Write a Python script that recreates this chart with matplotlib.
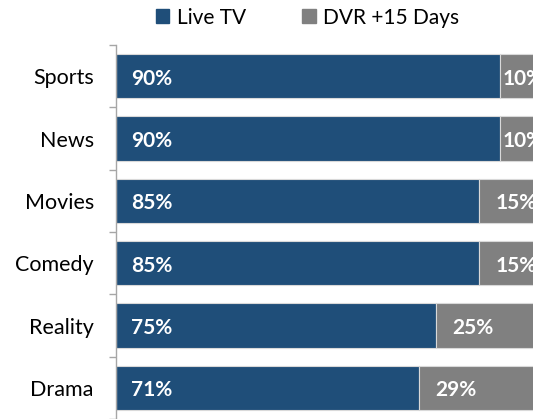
import matplotlib
matplotlib.use("Agg")
import matplotlib.pyplot as plt
from matplotlib.patches import Patch

# ── data ──────────────────────────────────────────────────────────────────────
CATEGORIES = ["Sports", "News", "Movies", "Comedy", "Reality", "Drama"]
LIVE_TV    = [90, 90, 85, 85, 75, 71]
DVR_15     = [10, 10, 15, 15, 25, 29]
SERIES     = ["Live TV", "DVR +15 Days"]

BLUE = "#1F4E79"
GRAY = "#808080"
FONT = ["Lato", "DejaVu Sans"]

plt.rcParams["font.family"] = FONT

W, H = 533, 419
fig = plt.figure(figsize=(W / 100, H / 100), dpi=100)
# axes runs past the right edge on purpose (reference is cropped there)
ax = fig.add_axes([116 / W, 0, 427 / W, 374 / H])

y = list(range(len(CATEGORIES)))
ax.barh(y, LIVE_TV, height=0.71, color=BLUE, edgecolor="#D9D9D9", lw=0.8)
ax.barh(y, DVR_15, left=LIVE_TV, height=0.71, color=GRAY,
        edgecolor="#D9D9D9", lw=0.8)

for yi, live, dvr in zip(y, LIVE_TV, DVR_15):
    ax.text(3.6, yi + 0.04, f"{live}%", color="white", fontsize=15,
            fontweight="bold", ha="left", va="center")
    pad = 0.5 if dvr < 12 else 3.8
    ax.text(live + pad, yi + 0.04, f"{dvr}%", color="white", fontsize=15,
            fontweight="bold", ha="left", va="center")

ax.set_xlim(0, 100)
ax.set_ylim(len(CATEGORIES) - 0.5, -0.5)

# boundary ticks on the spine, labels at the bar centres
ax.set_yticks([i - 0.5 for i in range(len(CATEGORIES) + 1)])
ax.set_yticklabels([])
ax.set_yticks(y, minor=True)
ax.set_yticklabels(CATEGORIES, minor=True, fontsize=15.5, color="#000000")
ax.tick_params(axis="y", which="major", length=5, width=1, color="#A6A6A6")
ax.tick_params(axis="y", which="minor", length=0, pad=16)
ax.set_xticks([])

for s in ["top", "right", "bottom"]:
    ax.spines[s].set_visible(False)
ax.spines["left"].set_color("#A6A6A6")
ax.spines["left"].set_linewidth(1)

handles = [Patch(color=BLUE, label=SERIES[0]), Patch(color=GRAY, label=SERIES[1])]
fig.legend(handles=handles, loc="center", bbox_to_anchor=(0.577, 0.958),
           ncol=2, frameon=False, fontsize=15, handlelength=0.65,
           handleheight=0.65, handletextpad=0.35, columnspacing=2.7)

fig.savefig("out.png", dpi=100)
